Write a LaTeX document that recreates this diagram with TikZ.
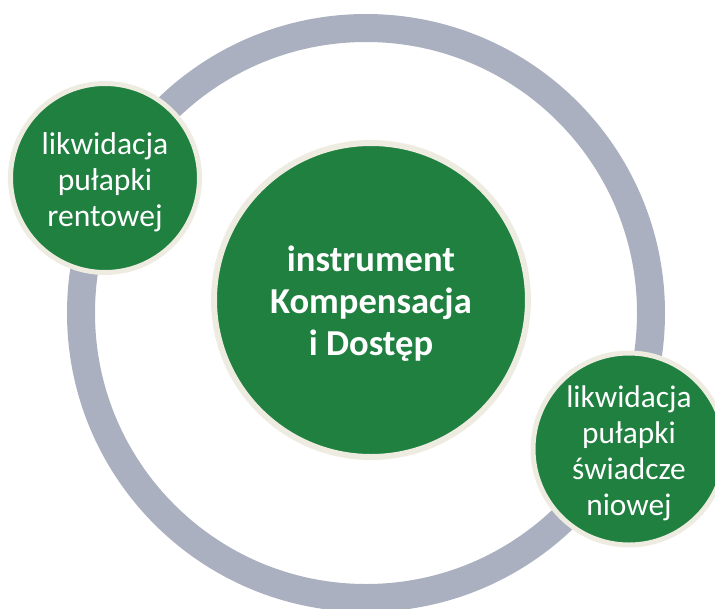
\documentclass[tikz,border=0pt]{standalone}
\usepackage{fontspec}
\setmainfont{Carlito}
\definecolor{leafgreen}{HTML}{1F8040}
\definecolor{rimcream}{HTML}{EEECE1}
\definecolor{ringgray}{HTML}{AAB0BF}
\begin{document}
\begin{tikzpicture}
                [x=0.75pt, y=-0.75pt,
                 bubble/.style={circle, draw=rimcream, fill=leafgreen, inner sep=0pt},
                 words/.style={text=white, align=center, inner sep=0pt},
                 ring/.style={draw=ringgray, line width=21pt}]
                \useasboundingbox (0,0) rectangle (715,608);
                \clip (0,0) rectangle (715,608);
                % Define ring
                \coordinate (c) at (366,313);
                \draw[ring] (c) circle[radius=285];
                % Define nodes
                \node[bubble, line width=4.5pt, minimum size=235.5pt] (core) at (371,300) {};
                \node[bubble, line width=3.75pt, minimum size=141.75pt] (rent) at (105,178) {};
                \node[bubble, line width=3.75pt, minimum size=144pt] (benefit) at (629,449) {};
                % Define texts
                \node[words, font=\bfseries\fontsize{27.4}{31.5}\selectfont] (core-text) at ([yshift=-3pt]core.center) {instrument\\Kompensacja\\i Dostęp};
                \node[words, font=\fontsize{23.7}{27}\selectfont] (rent-text) at ([yshift=-3.5pt]rent.center) {likwidacja\\pułapki\\rentowej};
                \node[words, font=\fontsize{23.5}{27}\selectfont] (benefit-text) at ([yshift=-3pt]benefit.center) {likwidacja\\pułapki\\świadcze\\niowej};
            \end{tikzpicture}
\end{document}
